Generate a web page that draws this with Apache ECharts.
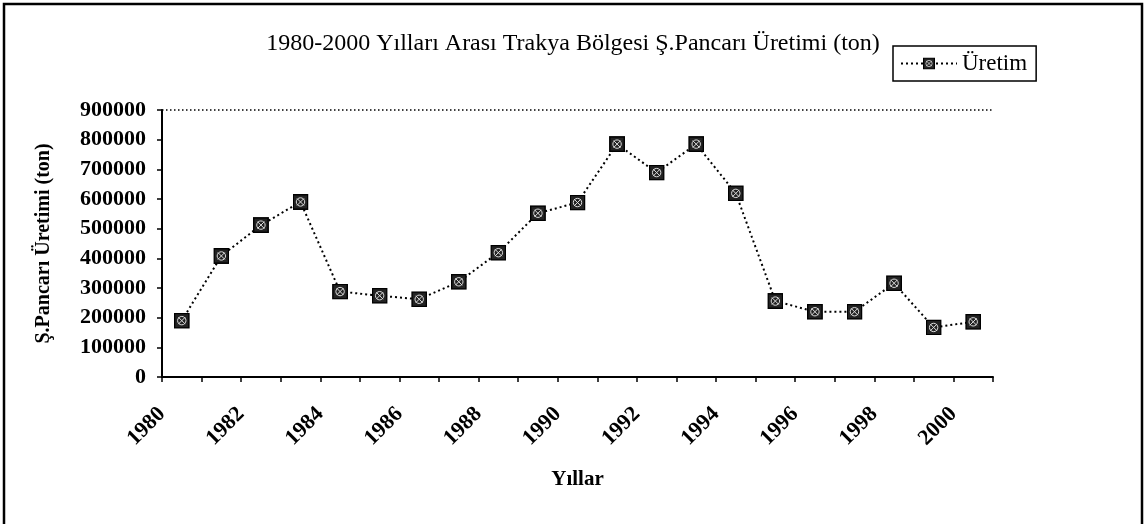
<!DOCTYPE html>
<html lang="tr">
<head>
    <meta charset="UTF-8">
    <title>Trakya Bölgesi Ş.Pancarı Üretimi</title>
    <style>
        html, body { margin: 0; padding: 0; background: #fff; }
    </style>
</head>
<body>
    <div id="myChart" style="width: 1146px;height:524px;"></div>
</body>
<script src="https://cdn.jsdelivr.net/npm/echarts@6/dist/echarts.min.js"></script>
<script>
    // yillar ve uretim (ton)
    let years = ['1980', '1981', '1982', '1983', '1984', '1985', '1986', '1987', '1988', '1989', '1990',
                 '1991', '1992', '1993', '1994', '1995', '1996', '1997', '1998', '1999', '2000'];
    let production = [190000, 408000, 512000, 590000, 288000, 274000, 262000, 321000, 419000, 552000, 588000,
                      785000, 689000, 785000, 619000, 256000, 220000, 220000, 316000, 167000, 186000];
    let yTicks = [0, 100000, 200000, 300000, 400000, 500000, 600000, 700000, 800000, 900000];

    let serif = '"Liberation Serif", "DejaVu Serif", serif';

    // carpi desenli kare isaret
    let markerSvg = "<svg xmlns='http://www.w3.org/2000/svg' width='16' height='16'>" +
        "<rect x='0.75' y='0.75' width='14.5' height='14.5' fill='#222' stroke='#000' stroke-width='1.5'/>" +
        "<circle cx='8' cy='8' r='4.2' fill='none' stroke='#ddd' stroke-width='1'/>" +
        "<path d='M4.5 4.5L11.5 11.5M11.5 4.5L4.5 11.5' stroke='#ddd' stroke-width='1'/></svg>";
    let marker = 'image://data:image/svg+xml;charset=utf-8,' + encodeURIComponent(markerSvg);

    let chart = echarts.init(document.getElementById('myChart'));
    let option = {
      backgroundColor: '#fff',
      animation: false,
      title: {
        text: '1980-2000 Yılları Arası Trakya Bölgesi Ş.Pancarı Üretimi (ton)',
        left: 'center',
        top: 27,
        textStyle: { fontFamily: serif, fontSize: 24, fontWeight: 'normal', color: '#000' }
      },
      legend: {
        left: 893,
        top: 46,
        padding: [6, 9, 6, 7],
        borderColor: '#000',
        borderWidth: 1.5,
        itemWidth: 56,
        itemHeight: 15,
        itemGap: 4,
        textStyle: { fontFamily: serif, fontSize: 23, color: '#000' },
        data: ['Üretim']
      },
      grid: { left: 162, right: 153, top: 110, bottom: 147 },
      xAxis: {
        type: 'category',
        data: years,
        boundaryGap: true,
        name: 'Yıllar',
        nameLocation: 'middle',
        nameGap: 92,
        nameTextStyle: { fontFamily: serif, fontSize: 21, fontWeight: 'bold', color: '#000' },
        axisLine: { lineStyle: { color: '#000', width: 2 } },
        axisTick: { show: true, interval: 0, length: 5, lineStyle: { color: '#000', width: 1.5 } },
        axisLabel: {
          interval: 1,
          rotate: 45,
          margin: 14,
          padding: [0, 28, 0, 0],
          fontFamily: serif,
          fontSize: 22,
          fontWeight: 'bold',
          color: '#000'
        },
        splitLine: { show: false }
      },
      yAxis: {
        type: 'value',
        min: yTicks[0],
        max: yTicks[yTicks.length - 1],
        interval: yTicks[1] - yTicks[0],
        name: 'Ş.Pancarı Üretimi (ton)',
        nameLocation: 'middle',
        nameGap: 108,
        nameTextStyle: { fontFamily: serif, fontSize: 20, fontWeight: 'bold', color: '#000' },
        axisLine: { show: true, lineStyle: { color: '#000', width: 2 } },
        axisTick: { show: true, length: 5, lineStyle: { color: '#000', width: 1.5 } },
        axisLabel: {
          margin: 16,
          fontFamily: serif,
          fontSize: 22,
          fontWeight: 'bold',
          color: '#000',
          formatter: function (v) { return String(v); }
        },
        splitLine: { show: false }
      },
      series: [{
        name: 'Üretim',
        type: 'line',
        data: production,
        symbol: marker,
        symbolSize: 16,
        lineStyle: { color: '#000', width: 2, type: [2, 3] },
        itemStyle: { color: '#000' },
        markLine: {
          silent: true,
          symbol: ['none', 'none'],
          label: { show: false },
          lineStyle: { color: '#000', width: 1.5, type: [1.5, 2.5] },
          data: [{ yAxis: yTicks[yTicks.length - 1] }]
        }
      }],
      graphic: [{
        type: 'rect',
        shape: { x: 4, y: 4, width: 1138, height: 540 },
        style: { fill: 'none', stroke: '#000', lineWidth: 2.5 },
        silent: true
      }]
    };
    chart.setOption(option);
</script>
</html>
